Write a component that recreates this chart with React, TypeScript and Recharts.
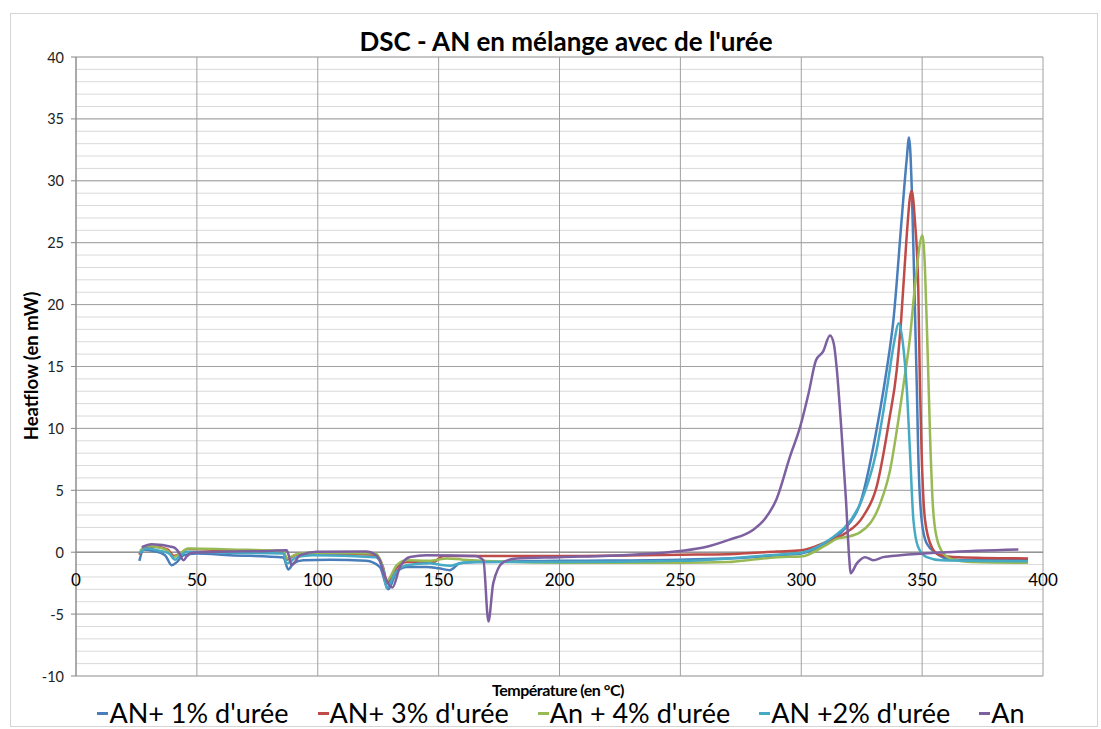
import { LineChart, Line, XAxis, YAxis, CartesianGrid, ReferenceLine } from 'recharts';

// temperatures (°C) and heat flow (mW)
const an1T = [26.2, 27.9, 32, 36.8, 39.6, 41.7, 44.4, 49.9, 63.7, 85.8, 87.8, 89.9, 94, 105, 120, 125.7, 129.2, 132.6, 136.8, 145, 150, 154.7, 158.8, 165.7, 200, 250, 280, 290, 300, 310, 318, 324.3, 331.9, 335.3, 338.1, 341.5, 343.6, 344.6, 345.7, 346.8, 347.8, 348.4, 349.8, 351.9, 356, 360, 370, 393.8];
const an1Q = [-0.7, 0.2, 0.1, -0.24, -1.05, -0.8, -0.24, -0.1, -0.24, -0.43, -1.4, -0.9, -0.65, -0.6, -0.7, -1.2, -3.0, -1.6, -1.2, -1.2, -1.3, -1.45, -0.9, -0.8, -0.7, -0.6, -0.4, -0.25, -0.1, 0.7, 1.9, 3.9, 10.7, 14.7, 18.7, 26.8, 31.7, 33.5, 29.5, 21.4, 13.4, 8, 2.6, 0.7, -0.1, -0.5, -0.65, -0.65];

const an3T = [26.2, 28.5, 33, 38, 40.5, 44, 46, 63.7, 85.8, 87.3, 91, 98, 124, 127, 128.8, 132.5, 137, 144, 147.8, 151.9, 200, 250, 270, 290, 300, 310, 318, 325.6, 331.2, 336.4, 339.5, 341.3, 343.6, 345, 345.7, 347, 348.4, 349.1, 349.8, 351.2, 354, 357, 365, 393.8];
const an3Q = [-0.2, 0.4, 0.45, 0.2, -0.3, 0, 0.25, 0.15, 0, -0.6, -0.2, -0.1, -0.2, -1.2, -2.5, -1.3, -0.8, -0.8, -0.8, -0.3, -0.3, -0.2, -0.16, 0.05, 0.15, 0.8, 1.5, 2.9, 5.3, 10.7, 14.7, 18.7, 25.5, 28.7, 29.2, 26.8, 21.4, 13.4, 8, 2.6, 0.4, -0.2, -0.4, -0.5];

const an4T = [26.5, 29.2, 35, 38, 40.3, 43, 46.5, 63.7, 85.8, 87.1, 91.3, 98, 124, 126.4, 128.5, 132.7, 136.8, 145, 150, 153.3, 160, 200, 250, 270, 280, 290, 300, 310, 315, 318, 324.3, 332.6, 336.7, 340.2, 342.2, 345, 347, 350.1, 351.2, 352.3, 353.3, 354.4, 356, 358.8, 363, 370, 393.8];
const an4Q = [0.1, 0.5, 0.35, 0.1, -0.4, -0.1, 0.3, 0.22, 0.1, -0.5, -0.16, -0.05, -0.1, -0.9, -2.3, -1.05, -0.65, -0.7, -0.6, -0.5, -0.6, -0.85, -0.85, -0.8, -0.6, -0.4, -0.35, 0.55, 1.1, 1.2, 1.6, 3.9, 6.6, 10.7, 13.4, 17.4, 21.4, 25.6, 22.8, 16, 9.3, 3.9, 1.2, -0.1, -0.6, -0.8, -0.86];

const an2T = [26.2, 29.2, 35, 38.5, 41, 43, 45.8, 63.7, 85.8, 87.1, 91.3, 98, 124, 127.1, 128.5, 132, 136.8, 146.4, 150, 154.7, 158.8, 165, 200, 250, 270, 280, 290, 300, 310, 315, 318, 325, 330.9, 335.6, 338.1, 340.4, 342.2, 343.6, 345, 346.4, 348.4, 351.9, 358, 393.8];
const an2Q = [-0.1, 0.3, 0.1, -0.1, -0.6, -0.3, 0.03, -0.05, -0.1, -0.9, -0.4, -0.24, -0.4, -1.45, -2.9, -1.7, -1.05, -0.9, -1.0, -1.1, -0.9, -0.8, -0.8, -0.7, -0.5, -0.35, -0.2, -0.05, 0.8, 1.5, 2.0, 4.2, 8, 13.4, 16.6, 18.5, 16.6, 13.4, 8, 2.6, 0.4, -0.4, -0.65, -0.73];

const anT = [27.2, 31.3, 40.3, 42.5, 44.4, 46, 47.8, 63.7, 80, 87.1, 88.2, 89.2, 92.7, 99.6, 120, 123, 125.5, 127.8, 130.9, 134, 138.2, 145.1, 165, 168.5, 170.6, 172.6, 176.8, 182.3, 200, 230, 250, 260, 270, 280, 285, 289.8, 295.3, 299.5, 303, 306.1, 309, 311.9, 313.5, 314.6, 316.7, 318.5, 319.9, 320.4, 323, 326.4, 329.8, 333.9, 340.9, 360, 389.8];
const anQ = [0.4, 0.65, 0.4, 0, -0.65, -0.3, -0.05, 0.05, 0.1, 0.16, -0.4, -1.05, -0.24, 0.03, 0.05, -0.1, -0.6, -2.0, -2.85, -1.2, -0.38, -0.25, -0.3, -0.65, -5.6, -2.5, -0.8, -0.5, -0.4, -0.2, 0.1, 0.4, 1.0, 1.8, 2.7, 4.3, 7.7, 10.1, 12.8, 15.5, 16.2, 17.5, 16.8, 15, 9.6, 4.2, -0.65, -1.7, -0.9, -0.4, -0.65, -0.4, -0.25, 0.0, 0.22];

const xTicks = [0, 50, 100, 150, 200, 250, 300, 350, 400];
const yTicks = [-10, -5, 0, 5, 10, 15, 20, 25, 30, 35, 40];
const yMinorTicks = Array.from({ length: 51 }, (_, i) => i - 10);

const zip = (t: number[], q: number[]) => t.map((v, i) => ({ t: v, q: q[i] }));

const series = [
  { name: "AN+ 1% d'urée", color: '#4a7ebb', data: zip(an1T, an1Q) },
  { name: "AN+ 3% d'urée", color: '#be4b48', data: zip(an3T, an3Q) },
  { name: "An + 4% d'urée", color: '#98b954', data: zip(an4T, an4Q) },
  { name: "AN +2% d'urée", color: '#46aac5', data: zip(an2T, an2Q) },
  { name: 'An', color: '#7d60a0', data: zip(anT, anQ) },
];

const FONT = 'Lato, "Open Sans", sans-serif';
const W = 1101;
const H = 729;
const PLOT_LEFT = 76;
const PLOT_TOP = 57;
const PLOT_H = 619;
const ZERO_Y = PLOT_TOP + (PLOT_H * 40) / 50;

const XTick = ({ x, payload }: any) => (
  <text x={x} y={ZERO_Y + 27} textAnchor="middle" dominantBaseline="central" fontSize={17} fontFamily={FONT} fill="#000">
    {payload.value}
  </text>
);

const YTick = ({ y, payload }: any) => {
  if (payload.value % 5 !== 0) return <g />;
  return (
    <g>
      <line x1={PLOT_LEFT - 5} x2={PLOT_LEFT} y1={y} y2={y} stroke="#868686" />
      <text x={PLOT_LEFT - 12} y={y} textAnchor="end" dominantBaseline="central" fontSize={14.5} fontFamily={FONT} fill="#222">
        {payload.value}
      </text>
    </g>
  );
};

export default function App() {
  return (
    <div style={{ position: 'absolute', left: 0, top: 0, width: W, height: H, background: '#fff', fontFamily: FONT }}>
      <div style={{ position: 'absolute', left: 10, top: 13, width: 1086, height: 712, border: '1px solid #d4d4d4' }} />
      <div style={{ position: 'absolute', left: 0, width: 1132, top: 25, textAlign: 'center', fontSize: 26, fontWeight: 700, color: '#000' }}>
        DSC - AN en mélange avec de l'urée
      </div>
      <div
        style={{
          position: 'absolute', left: 31, top: 366, fontSize: 18.5, fontWeight: 700, color: '#000', whiteSpace: 'nowrap',
          transform: 'translate(-50%, -50%) rotate(-90deg)',
        }}
      >
        Heatflow (en mW)
      </div>
      <LineChart width={W} height={H} margin={{ top: PLOT_TOP, right: 58, bottom: 33, left: 0 }} style={{ position: 'absolute', left: 0, top: 0 }}>
        <CartesianGrid stroke="#d9d9d9" horizontal vertical={false} />
        <CartesianGrid stroke="#a0a0a0" horizontal={false} vertical />
        {yTicks.map((v) => (
          <ReferenceLine key={v} y={v} stroke="#a0a0a0" />
        ))}
        <ReferenceLine y={0} stroke="#868686" />
        <XAxis
          type="number"
          dataKey="t"
          domain={[0, 400]}
          ticks={xTicks}
          height={20}
          axisLine={false}
          tickLine={false}
          tick={<XTick />}
          interval={0}
        />
        <YAxis
          type="number"
          domain={[-10, 40]}
          ticks={yMinorTicks}
          width={PLOT_LEFT}
          interval={0}
          axisLine={{ stroke: '#868686' }}
          tickLine={false}
          tick={<YTick />}
        />
        {series.map((s) => (
          <Line
            key={s.name}
            data={s.data}
            dataKey="q"
            name={s.name}
            type="monotone"
            stroke={s.color}
            strokeWidth={2.5}
            dot={false}
            isAnimationActive={false}
          />
        ))}
      </LineChart>
      <div style={{ position: 'absolute', left: 0, width: 1116, top: 682, lineHeight: '16px', textAlign: 'center', fontSize: 16, fontWeight: 700, color: '#000', letterSpacing: -0.5 }}>
        Température (en °C)
      </div>
      <div style={{ position: 'absolute', left: 0, width: 1122, top: 700, lineHeight: '26px', display: 'flex', justifyContent: 'center', gap: 29, fontSize: 27, color: '#000' }}>
        {series.map((s) => (
          <div key={s.name} style={{ display: 'flex', alignItems: 'center', whiteSpace: 'nowrap' }}>
            <span style={{ display: 'inline-block', width: 11, height: 3, background: s.color, marginRight: 1 }} />
            {s.name}
          </div>
        ))}
      </div>
    </div>
  );
}
